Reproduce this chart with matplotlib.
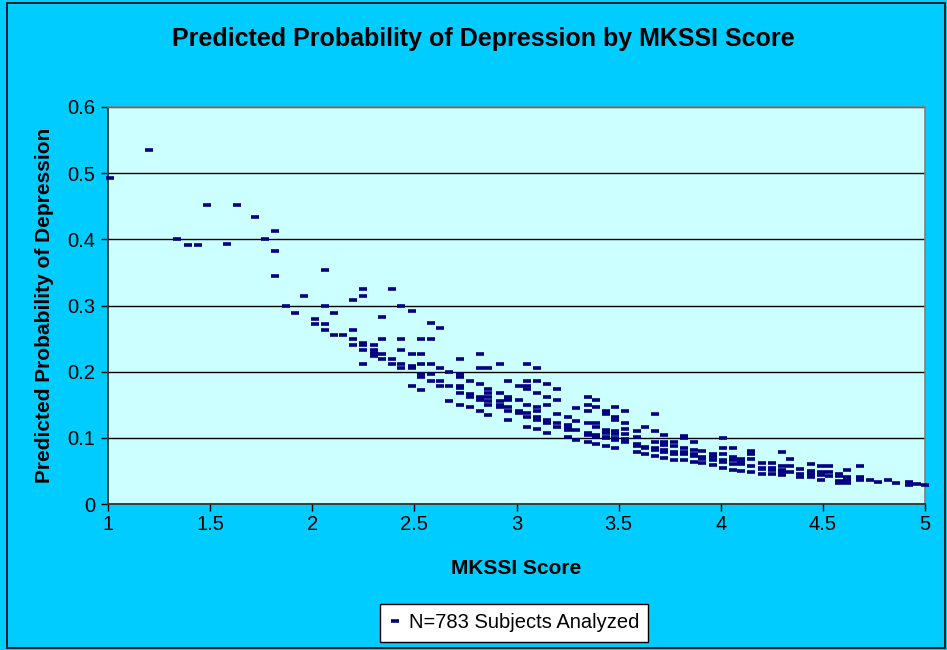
import matplotlib
matplotlib.use("Agg")
import matplotlib.pyplot as plt
from matplotlib.patches import Rectangle


# %% data: MKSSI score levels and predicted probabilities at each level

score_levels = [1.01, 1.20, 1.34, 1.39, 1.44, 1.485, 1.585, 1.63, 1.72, 1.77,
                1.82, 1.87, 1.915, 1.96, 2.015, 2.06, 2.106, 2.15, 2.20, 2.25,
                2.30, 2.34, 2.39, 2.434, 2.49, 2.53, 2.58, 2.625, 2.67, 2.725,
                2.77, 2.82, 2.86, 2.92, 2.96, 3.01, 3.05, 3.10, 3.15, 3.20,
                3.25, 3.29, 3.35, 3.39, 3.44, 3.48, 3.53, 3.59, 3.63, 3.68,
                3.72, 3.77, 3.82, 3.87, 3.91, 3.96, 4.01, 4.06, 4.10, 4.15,
                4.20, 4.25, 4.30, 4.34, 4.39, 4.44, 4.49, 4.53, 4.58, 4.62,
                4.68, 4.73, 4.77, 4.82, 4.86, 4.92, 4.96, 5.0]

prob_levels = [
    [0.493], [0.535], [0.400], [0.391], [0.391], [0.452], [0.393], [0.452], [0.434], [0.400],
    [0.413, 0.382, 0.344], [0.299], [0.289], [0.315], [0.280, 0.272],
    [0.353, 0.299, 0.272, 0.263], [0.289, 0.256], [0.256],
    [0.308, 0.263, 0.249, 0.240], [0.325, 0.315, 0.243, 0.240, 0.233, 0.212],
    [0.240, 0.233, 0.228, 0.224], [0.283, 0.249, 0.226, 0.219], [0.325, 0.219, 0.212],
    [0.299, 0.249, 0.233, 0.212, 0.205], [0.292, 0.226, 0.209, 0.206, 0.179],
    [0.249, 0.226, 0.212, 0.197, 0.192, 0.172], [0.273, 0.249, 0.212, 0.197, 0.186],
    [0.266, 0.205, 0.186, 0.179], [0.200, 0.179, 0.155],
    [0.219, 0.197, 0.192, 0.179, 0.175, 0.168, 0.150],
    [0.186, 0.167, 0.162, 0.146], [0.226, 0.205, 0.181, 0.162, 0.157, 0.141],
    [0.205, 0.174, 0.168, 0.162, 0.155, 0.150, 0.134], [0.212, 0.168, 0.155, 0.150, 0.146],
    [0.186, 0.162, 0.157, 0.146, 0.141, 0.127], [0.179, 0.157, 0.141, 0.137],
    [0.212, 0.186, 0.179, 0.174, 0.150, 0.137, 0.131, 0.117],
    [0.205, 0.186, 0.168, 0.146, 0.141, 0.131, 0.127, 0.113],
    [0.181, 0.162, 0.150, 0.127, 0.122, 0.108], [0.174, 0.157, 0.136, 0.122, 0.117],
    [0.131, 0.119, 0.115, 0.112, 0.101], [0.145, 0.126, 0.112, 0.096],
    [0.162, 0.150, 0.141, 0.122, 0.108, 0.105, 0.094],
    [0.157, 0.146, 0.122, 0.117, 0.105, 0.101, 0.091],
    [0.141, 0.136, 0.112, 0.108, 0.102, 0.099, 0.087],
    [0.146, 0.131, 0.127, 0.110, 0.106, 0.099, 0.096, 0.084],
    [0.141, 0.122, 0.113, 0.106, 0.098, 0.093], [0.110, 0.101, 0.091, 0.087, 0.078],
    [0.117, 0.086, 0.084, 0.075], [0.136, 0.110, 0.094, 0.085, 0.082, 0.073],
    [0.105, 0.093, 0.089, 0.082, 0.078, 0.070], [0.093, 0.087, 0.079, 0.076, 0.066],
    [0.103, 0.099, 0.084, 0.078, 0.075, 0.066], [0.093, 0.082, 0.075, 0.072, 0.064],
    [0.080, 0.071, 0.068, 0.062], [0.075, 0.071, 0.066, 0.059],
    [0.099, 0.084, 0.075, 0.066, 0.063, 0.055], [0.084, 0.071, 0.066, 0.060, 0.052],
    [0.068, 0.063, 0.060, 0.050], [0.080, 0.076, 0.068, 0.058, 0.048],
    [0.062, 0.055, 0.053, 0.046], [0.062, 0.054, 0.051, 0.046],
    [0.079, 0.058, 0.052, 0.049, 0.044], [0.068, 0.058, 0.049], [0.053, 0.046, 0.041],
    [0.060, 0.050, 0.046, 0.041], [0.058, 0.048, 0.044, 0.037], [0.058, 0.048, 0.043],
    [0.046, 0.042, 0.035, 0.032], [0.052, 0.041, 0.036, 0.032], [0.058, 0.041, 0.036],
    [0.036], [0.034], [0.036], [0.032], [0.034, 0.029], [0.030], [0.029],
]

x_ticks = [1, 1.5, 2, 2.5, 3, 3.5, 4, 4.5, 5]
x_tick_labels = ['1', '1.5', '2', '2.5', '3', '3.5', '4', '4.5', '5']
y_ticks = [0, 0.1, 0.2, 0.3, 0.4, 0.5, 0.6]
y_tick_labels = ['0', '0.1', '0.2', '0.3', '0.4', '0.5', '0.6']

scores = [x for x, ys in zip(score_levels, prob_levels) for _ in ys]
probs = [y for ys in prob_levels for y in ys]


# %% plot

plt.rcParams['font.family'] = ['Liberation Sans', 'DejaVu Sans']

OUTER_BG = '#00CCFF'
PLOT_BG = '#CCFFFF'
NAVY = '#000080'

fig = plt.figure(figsize=(9.47, 6.5), dpi=100, facecolor=OUTER_BG)
fig.patches.append(Rectangle((7 / 947, 2 / 650), 938 / 947, 645 / 650, transform=fig.transFigure,
                             fill=False, edgecolor='black', lw=1.2))

ax = fig.add_axes([108 / 947, 1 - 504 / 650, 817 / 947, 397 / 650], facecolor=PLOT_BG)

ax.plot(scores, probs, linestyle='None', marker='_', markersize=6, markeredgewidth=2.6,
        color=NAVY, clip_on=False, zorder=3, label='N=783 Subjects Analyzed')

ax.set_xlim(1, 5)
ax.set_ylim(0, 0.6)
ax.set_xticks(x_ticks)
ax.set_xticklabels(x_tick_labels)
ax.set_yticks(y_ticks)
ax.set_yticklabels(y_tick_labels)
ax.tick_params(axis='both', labelsize=14.5, direction='out', length=5, width=1, color='black', pad=4)
ax.tick_params(axis='x', pad=3)

ax.yaxis.grid(True, color='black', lw=1)
ax.set_axisbelow(True)

for side in ['top', 'right']:
    ax.spines[side].set_color('#808080')
    ax.spines[side].set_linewidth(1.2)
for side in ['left', 'bottom']:
    ax.spines[side].set_color('#333333')
    ax.spines[side].set_linewidth(1.3)

fig.text(483 / 947, 1 - 39 / 650, 'Predicted Probability of Depression by MKSSI Score',
         ha='center', va='center', fontsize=18, fontweight='bold')
ax.set_xlabel('MKSSI Score', fontsize=15, fontweight='bold', labelpad=18)
ax.set_ylabel('Predicted Probability of Depression', fontsize=15, fontweight='bold', labelpad=10)

leg = fig.legend(loc='center', bbox_to_anchor=(514 / 947, 1 - 623 / 650), fontsize=14.5,
                 frameon=True, fancybox=False, handlelength=0.6, handletextpad=0.4,
                 borderpad=0.45, markerscale=0.9)
leg.get_frame().set_edgecolor('black')
leg.get_frame().set_facecolor('white')
leg.get_frame().set_linewidth(1)
leg.get_frame().set_alpha(1)

fig.savefig('out.png', dpi=100, facecolor=OUTER_BG)
